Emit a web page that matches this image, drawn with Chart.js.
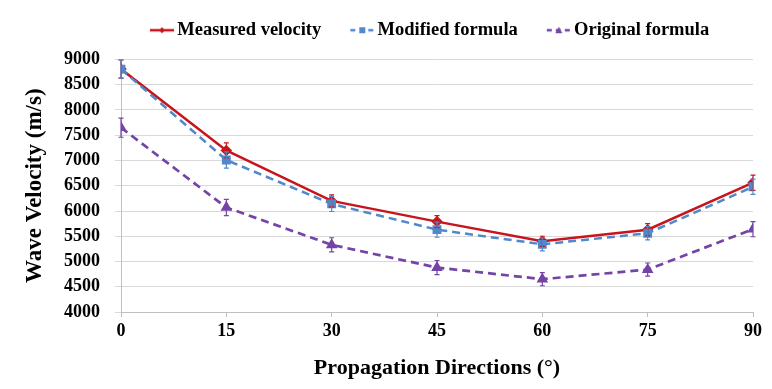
<!DOCTYPE html>
<html>
<head>
<meta charset="utf-8">
<script src="https://cdn.jsdelivr.net/npm/chart.js@4"></script>
<style>
  html, body { margin: 0; padding: 0; background: #fff; }
  #wrap { width: 772px; height: 389px; }
</style>
</head>
<body>
<div id="wrap"><canvas id="velocityChart" width="772" height="389"></canvas></div>
<script>
// propagation directions (deg)
const angles = [0, 15, 30, 45, 60, 75, 90];
const yTicks = [4000, 4500, 5000, 5500, 6000, 6500, 7000, 7500, 8000, 8500, 9000];

// wave velocity (m/s)
const measured = [8810, 7200, 6200, 5790, 5400, 5630, 6560];
const modified = [8810, 7010, 6140, 5630, 5340, 5560, 6480];
const original = [7650, 6070, 5330, 4880, 4650, 4840, 5640];

// error bar half-widths
const measuredErr = [180, 150, 120, 120, 100, 120, 150];
const modifiedErr = [180, 160, 150, 150, 130, 130, 150];
const originalErr = [190, 160, 140, 140, 130, 130, 150];

const RED = '#c8141c';
const BLUE = '#5088cc';
const PURPLE = '#7444a6';
const FONT = "'Liberation Serif', 'Times New Roman', serif";

// small line+marker swatch for the legend
function swatch(color, dash, shape) {
    const c = document.createElement('canvas');
    c.width = 52; c.height = 12;
    const g = c.getContext('2d');
    g.strokeStyle = color; g.fillStyle = color; g.lineWidth = 2.5;
    g.setLineDash(dash);
    g.beginPath(); g.moveTo(27, 6); g.lineTo(51, 6); g.stroke();
    g.setLineDash([]);
    const cx = 39;
    g.beginPath();
    if (shape === 'diamond') { g.moveTo(cx, 3); g.lineTo(cx + 3, 6); g.lineTo(cx, 9); g.lineTo(cx - 3, 6); }
    else if (shape === 'square') { g.rect(cx - 3, 3, 6, 6); }
    else { g.moveTo(cx, 2.5); g.lineTo(cx + 3.5, 9); g.lineTo(cx - 3.5, 9); }
    g.closePath(); g.fill();
    return c;
}

const errorBars = {
    id: 'errorBars',
    afterDatasetsDraw(chart) {
        const ctx = chart.ctx;
        const yScale = chart.scales.y;
        chart.data.datasets.forEach((ds, di) => {
            const meta = chart.getDatasetMeta(di);
            ctx.save();
            ctx.strokeStyle = ds.borderColor;
            ctx.lineWidth = 1.2;
            meta.data.forEach((pt, i) => {
                const v = ds.data[i].y, e = ds.errors[i];
                const top = yScale.getPixelForValue(v + e);
                const bot = yScale.getPixelForValue(v - e);
                ctx.beginPath();
                ctx.moveTo(pt.x, top); ctx.lineTo(pt.x, bot);
                ctx.moveTo(pt.x - 2.5, top); ctx.lineTo(pt.x + 2.5, top);
                ctx.moveTo(pt.x - 2.5, bot); ctx.lineTo(pt.x + 2.5, bot);
                ctx.stroke();
            });
            ctx.restore();
        });
    }
};

// extra space under the legend
const legendGap = {
    id: 'legendGap',
    beforeInit(chart) {
        const fit = chart.legend.fit;
        chart.legend.fit = function () {
            fit.bind(chart.legend)();
            this.height += 10;
        };
    }
};

const toPoints = arr => angles.map((a, i) => ({ x: a, y: arr[i] }));

const ctx = document.getElementById('velocityChart').getContext('2d');
new Chart(ctx, {
    type: 'line',
    data: {
        datasets: [
            {
                label: 'Measured velocity', data: toPoints(measured), errors: measuredErr,
                borderColor: RED, backgroundColor: RED, borderWidth: 2.5,
                pointStyle: 'rectRot', pointRadius: 4, order: 3,
                legendIcon: swatch(RED, [], 'diamond')
            },
            {
                label: 'Modified formula', data: toPoints(modified), errors: modifiedErr,
                borderColor: BLUE, backgroundColor: BLUE, borderWidth: 2.5, borderDash: [8, 5],
                pointStyle: 'rect', pointRadius: 4.5, order: 2,
                legendIcon: swatch(BLUE, [5, 4], 'square')
            },
            {
                label: 'Original formula', data: toPoints(original), errors: originalErr,
                borderColor: PURPLE, backgroundColor: PURPLE, borderWidth: 2.7, borderDash: [8, 5],
                pointStyle: 'triangle', pointRadius: 4, order: 1,
                legendIcon: swatch(PURPLE, [5, 4], 'triangle')
            }
        ]
    },
    options: {
        responsive: false,
        animation: false,
        layout: { padding: { top: 12, right: 19, left: 0, bottom: 0 } },
        plugins: {
            tooltip: { enabled: false },
            legend: {
                position: 'top',
                align: 'start',
                fullSize: false,
                labels: {
                    usePointStyle: true,
                    pointStyleWidth: 38,
                    padding: 9,
                    color: '#000',
                    font: { family: FONT, size: 18.5, weight: 'bold' },
                    generateLabels: chart => chart.data.datasets.map((ds, i) => ({
                        text: ds.label,
                        pointStyle: ds.legendIcon,
                        fillStyle: ds.borderColor,
                        strokeStyle: ds.borderColor,
                        lineWidth: 0,
                        fontColor: '#000',
                        datasetIndex: i
                    }))
                }
            }
        },
        scales: {
            x: {
                type: 'linear',
                min: 0, max: 90,
                afterFit: s => { s.height = 77; },
                afterBuildTicks: s => { s.ticks = angles.map(v => ({ value: v })); },
                ticks: { color: '#000', padding: 4, font: { family: FONT, size: 18, weight: 'bold' } },
                grid: { drawOnChartArea: false, color: '#bfbfbf', tickLength: 5 },
                border: { color: '#bfbfbf' },
                title: {
                    display: true, text: 'Propagation Directions (°)', color: '#000',
                    padding: { top: 0, bottom: 7 },
                    font: { family: FONT, size: 22, weight: 'bold' }
                }
            },
            y: {
                min: 4000, max: 9000,
                afterFit: s => { s.width = 121; },
                afterBuildTicks: s => { s.ticks = yTicks.map(v => ({ value: v })); },
                ticks: {
                    color: '#000', padding: 15,
                    font: { family: FONT, size: 18, weight: 'bold' },
                    callback: v => String(v)
                },
                grid: { color: '#d9d9d9', tickLength: 6 },
                border: { color: '#bfbfbf' },
                title: {
                    display: true, text: 'Wave Velocity (m/s)', color: '#000',
                    padding: { top: 21, bottom: 0 },
                    font: { family: FONT, size: 23, weight: 'bold' }
                }
            }
        }
    },
    plugins: [errorBars, legendGap]
});
</script>
</body>
</html>
